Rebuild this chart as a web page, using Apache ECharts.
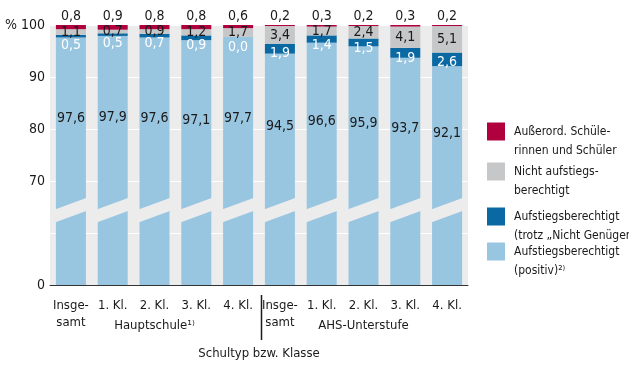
<!DOCTYPE html>
<html><head><meta charset="utf-8">
<script src="https://cdn.jsdelivr.net/npm/echarts@6/dist/echarts.min.js"></script>
<style>html,body{margin:0;padding:0;background:#fff}#c{width:629px;height:366px}</style>
</head><body><div id="c"></div>
<script>
const categories = ['Insge-\nsamt','1. Kl.','2. Kl.','3. Kl.','4. Kl.','Insge-\nsamt','1. Kl.','2. Kl.','3. Kl.','4. Kl.'];
const groups = ['Hauptschule\u00B9\u207E', 'AHS-Unterstufe'];
const seriesNames = ['Aufstiegsberechtigt\n(positiv)\u00B2\u207E', 'Aufstiegsberechtigt\n(trotz \u201ENicht Gen\u00FCgend\u201C)', 'Nicht aufstiegs-\nberechtigt', 'Au\u00DFerord. Sch\u00FCle-\nrinnen und Sch\u00FCler'];
const positive = [97.6, 97.9, 97.6, 97.1, 97.7, 94.5, 96.6, 95.9, 93.7, 92.1];
const trotz    = [0.5, 0.5, 0.7, 0.9, 0.0, 1.9, 1.4, 1.5, 1.9, 2.6];
const nicht    = [1.1, 0.7, 0.9, 1.2, 1.7, 3.4, 1.7, 2.4, 4.1, 5.1];
const ausserord= [0.8, 0.9, 0.8, 0.8, 0.6, 0.2, 0.3, 0.2, 0.3, 0.2];
const yTickLabels = {50: '0', 60: '', 70: '70', 80: '80', 90: '90', 100: '{p|%}100'};

const FONT = '"DejaVu Sans Condensed", "Liberation Sans Narrow", sans-serif';
const colors = ['#98c5e0', '#0a68a2', '#c6c7c8', '#b0003e'];
const BG = '#ececec';
const TXT = '#1a1a1a';
const breakLow = 62.0, breakThick = 2.5, breakRise = 2.3, labelRef = 66.4;
const fmt = v => v.toFixed(1).replace('.', ',');

const chart = echarts.init(document.getElementById('c'), null, {renderer: 'canvas'});

function legendAt(name, top) {
  return {
    data: [{name: name, icon: 'rect'}], orient: 'vertical', left: 487, top: top, padding: 0,
    itemWidth: 18, itemHeight: 18, selectedMode: false,
    formatter: n => '\n' + n,
    textStyle: {fontFamily: FONT, fontSize: 12, lineHeight: 19, color: TXT, padding: [0, 0, 0, 4]}
  };
}

const option = {
  animation: false,
  textStyle: {fontFamily: FONT},
  color: colors,
  grid: {left: 50, right: 161, top: 25, bottom: 81, show: true, backgroundColor: BG, borderWidth: 0},
  legend: [
    legendAt(seriesNames[3], 103),
    legendAt(seriesNames[2], 143),
    legendAt(seriesNames[1], 188),
    legendAt(seriesNames[0], 223)
  ],
  xAxis: [{
    type: 'category', data: categories,
    axisLine: {lineStyle: {color: '#333', width: 1}},
    axisTick: {inside: true, length: 6, lineStyle: {color: '#333'}},
    axisLabel: {fontFamily: FONT, fontSize: 13, lineHeight: 17, color: TXT, margin: 12, interval: 0},
    name: 'Schultyp bzw. Klasse', nameLocation: 'middle', nameGap: 62,
    nameTextStyle: {fontFamily: FONT, fontSize: 13, color: TXT}
  }, {
    type: 'category', data: groups, position: 'bottom', offset: 10,
    axisLine: {show: false}, axisTick: {show: false},
    axisLabel: {fontFamily: FONT, fontSize: 13, color: TXT, margin: 24, interval: 0}
  }],
  yAxis: {
    type: 'value', min: 50, max: 100, interval: 10,
    axisLine: {show: false}, axisTick: {show: false},
    splitLine: {lineStyle: {color: '#ffffff', width: 1}},
    axisLabel: {fontFamily: FONT, fontSize: 14, color: TXT, margin: 5,
      formatter: v => yTickLabels[v] !== undefined ? yTickLabels[v] : String(v),
      rich: {p: {fontFamily: FONT, fontSize: 14, color: TXT, padding: [0, 4, 0, 0]}}}
  },
  series: [
    {name: seriesNames[0], type: 'bar', stack: 's', barWidth: 30, data: positive,
      itemStyle: {color: colors[0]}},
    {name: seriesNames[1], type: 'bar', stack: 's', data: trotz, itemStyle: {color: colors[1]},
      label: {show: true, position: 'insideTop', distance: 3, color: '#ffffff', fontFamily: FONT, fontSize: 14,
        formatter: p => fmt(p.value)}},
    {name: seriesNames[2], type: 'bar', stack: 's', data: nicht, itemStyle: {color: colors[2]},
      label: {show: true, position: 'inside', color: TXT, fontFamily: FONT, fontSize: 14,
        formatter: p => fmt(p.value)}},
    {name: seriesNames[3], type: 'bar', stack: 's', data: ausserord, itemStyle: {color: colors[3]},
      label: {show: true, position: 'top', distance: 2, color: TXT, fontFamily: FONT, fontSize: 14,
        formatter: p => fmt(p.value)}},
    {type: 'custom', z: 5, clip: false, silent: true,
      data: positive.map((v, i) => [i, v]),
      encode: {x: 0, y: 1},
      renderItem: function (params, api) {
        const i = api.value(0), v = api.value(1);
        const w = 30;
        const cx = api.coord([i, v])[0];
        const xl = cx - w / 2 - 1, xr = cx + w / 2 + 1;
        const yLB = api.coord([i, breakLow])[1];
        const yLT = api.coord([i, breakLow + breakThick])[1];
        const yRB = api.coord([i, breakLow + breakRise])[1];
        const yRT = api.coord([i, breakLow + breakRise + breakThick])[1];
        const ty = api.coord([i, (v + labelRef) / 2])[1];
        return {type: 'group', children: [
          {type: 'polygon', shape: {points: [[xl, yLT], [xr, yRT], [xr, yRB], [xl, yLB]]}, style: {fill: BG}},
          {type: 'text', style: {text: fmt(v), x: cx, y: ty, align: 'center', verticalAlign: 'middle',
            font: '14px ' + FONT, fill: TXT}}
        ]};
      }}
  ]
};
chart.setOption(option);

// separator between the two school-type groups
const xa = chart.convertToPixel({xAxisIndex: 0}, 4);
const xb = chart.convertToPixel({xAxisIndex: 0}, 5);
const yBase = chart.convertToPixel({yAxisIndex: 0}, 50);
const sx = Math.round((xa + xb) / 2) + 2.5;
chart.setOption({graphic: [{type: 'line', shape: {x1: sx, y1: yBase + 10, x2: sx, y2: yBase + 55},
  style: {stroke: TXT, lineWidth: 1.5}, silent: true}]});
</script></body></html>
